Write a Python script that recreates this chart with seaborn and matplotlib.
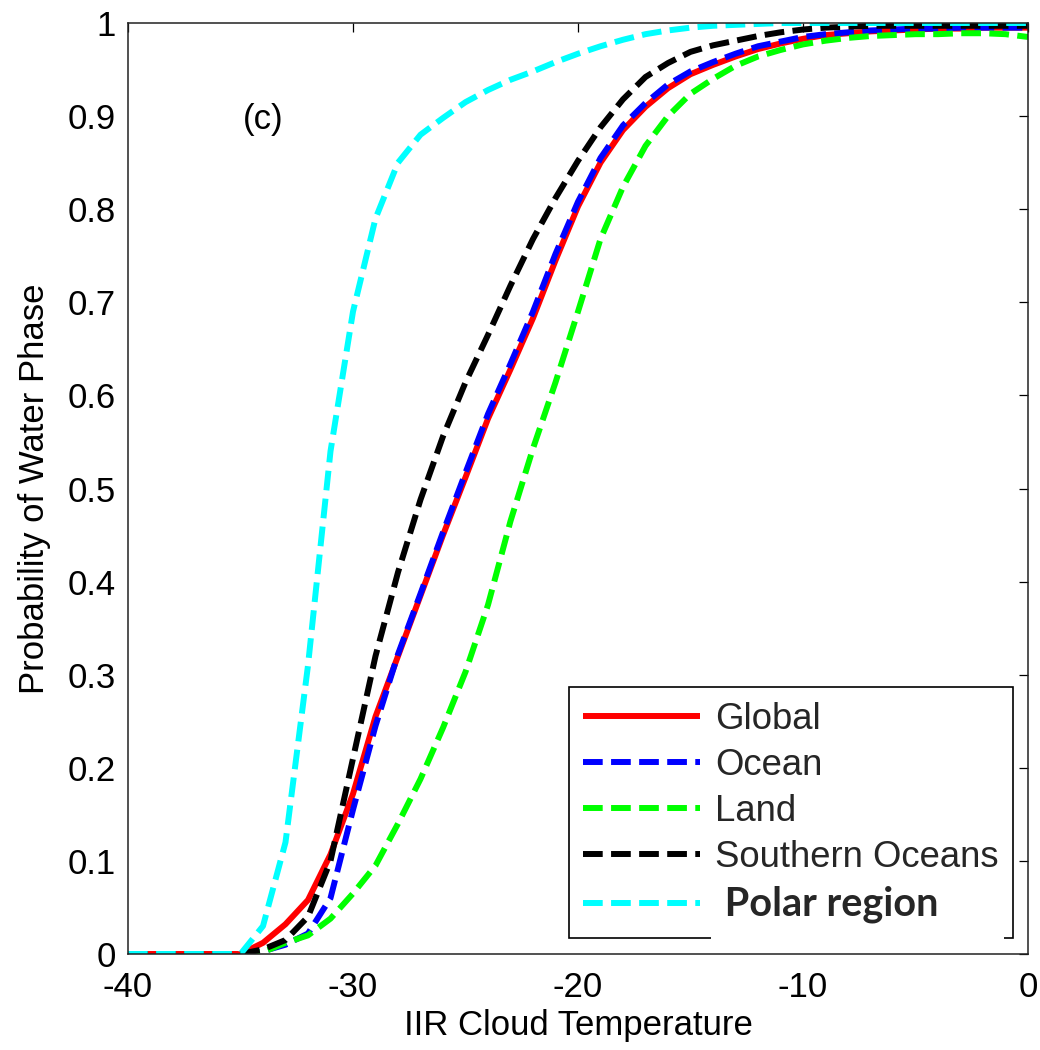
import numpy as np
import pandas as pd
import matplotlib
matplotlib.use("Agg")
import matplotlib.pyplot as plt
from matplotlib.path import Path
import seaborn as sns

# ---------------- data ----------------
temperature = list(range(-40, 1))

global_p = [0, 0, 0, 0, 0, 0, 0.012, 0.032, 0.058, 0.107, 0.172, 0.255, 0.32, 0.385,
            0.45, 0.512, 0.575, 0.628, 0.683, 0.745, 0.803, 0.85, 0.885, 0.91, 0.93,
            0.945, 0.955, 0.964, 0.972, 0.978, 0.983, 0.987, 0.989, 0.991, 0.992,
            0.993, 0.994, 0.994, 0.995, 0.995, 0.995]
ocean_p = [0, 0, 0, 0, 0, 0, 0.003, 0.01, 0.022, 0.06, 0.155, 0.245, 0.322, 0.387,
           0.453, 0.517, 0.58, 0.634, 0.69, 0.752, 0.808, 0.855, 0.89, 0.914, 0.934,
           0.948, 0.958, 0.967, 0.975, 0.98, 0.985, 0.988, 0.99, 0.992, 0.993,
           0.994, 0.994, 0.995, 0.995, 0.995, 0.995]
land_p = [0, 0, 0, 0, 0, 0, 0.002, 0.012, 0.02, 0.038, 0.065, 0.095, 0.14, 0.188,
          0.243, 0.303, 0.375, 0.465, 0.543, 0.614, 0.69, 0.768, 0.824, 0.868, 0.9,
          0.924, 0.94, 0.954, 0.964, 0.971, 0.977, 0.981, 0.984, 0.986, 0.987,
          0.988, 0.988, 0.989, 0.989, 0.988, 0.985]
southern_p = [0, 0, 0, 0, 0, 0, 0.005, 0.015, 0.04, 0.1, 0.21, 0.32, 0.41, 0.488,
              0.556, 0.614, 0.665, 0.718, 0.768, 0.812, 0.852, 0.888, 0.918, 0.942, 0.957,
              0.969, 0.976, 0.981, 0.986, 0.99, 0.993, 0.995, 0.996, 0.997, 0.997,
              0.997, 0.997, 0.997, 0.997, 0.997, 0.997]
polar_p = [0, 0, 0, 0, 0, 0, 0.03, 0.12, 0.31, 0.54, 0.69, 0.79, 0.85, 0.88,
           0.898, 0.915, 0.928, 0.939, 0.948, 0.958, 0.967, 0.975, 0.982, 0.988, 0.992,
           0.995, 0.997, 0.998, 0.999, 1.0, 1.0, 1.0, 1.0, 1.0, 1.0,
           1.0, 1.0, 1.0, 1.0, 1.0, 1.0]

region_names = ["Global", "Ocean", "Land", "Southern Oceans", "Polar region"]
region_values = [global_p, ocean_p, land_p, southern_p, polar_p]
region_colors = ["#ff0000", "#0000ff", "#00ff00", "#000000", "#00ffff"]

x_ticks = [-40, -30, -20, -10, 0]
x_tick_labels = ["-40", "-30", "-20", "-10", "0"]
y_ticks = [0, 0.1, 0.2, 0.3, 0.4, 0.5, 0.6, 0.7, 0.8, 0.9, 1.0]
y_tick_labels = ["0", "0.1", "0.2", "0.3", "0.4", "0.5", "0.6", "0.7", "0.8", "0.9", "1"]

df = pd.concat([pd.DataFrame({"T": temperature, "P": vals, "Region": name})
                for name, vals in zip(region_names, region_values)], ignore_index=True)

# ---------------- style ----------------
sns.set_theme(style="white")
plt.rcParams["font.family"] = ["Liberation Sans", "DejaVu Sans"]
plt.rcParams["axes.unicode_minus"] = False

fig = plt.figure(figsize=(10.4, 10.5), dpi=100)
ax = fig.add_axes([128 / 1040, 1 - 954 / 1050, 900 / 1040, 931 / 1050])

LW = 4.3
dash = (3.3, 1.4)
for name, color in zip(region_names, region_colors):
    sub = df[df["Region"] == name]
    sns.lineplot(data=sub, x="T", y="P", color=color, linewidth=LW, ax=ax,
                 label=name, legend=False)
    line = ax.lines[-1]
    if name != "Global":
        line.set_dashes(dash)
    line.set_solid_capstyle("butt")
    line.set_dash_capstyle("butt")

ax.set_xlim(-40, 0)
ax.set_ylim(0, 1)
ax.set_xticks(x_ticks)
ax.set_xticklabels(x_tick_labels)
ax.set_yticks(y_ticks)
ax.set_yticklabels(y_tick_labels)

FS = 25
ax.tick_params(axis="both", which="both", direction="in", length=6.5, width=0.9,
               top=True, right=True, labelsize=FS, colors="black", pad=9)
ax.tick_params(axis="x", pad=12)
for sp in ax.spines.values():
    sp.set_visible(True)
    sp.set_color("#222222")
    sp.set_linewidth(1.1)

ax.set_xlabel("IIR Cloud Temperature", fontsize=FS, labelpad=4, color="black")
ax.set_ylabel("Probability of Water Phase", fontsize=FS, labelpad=12, color="black")

ax.text(-34.0, 0.896, "(c)", fontsize=FS, ha="center", va="center", color="black")

handles = ax.lines[:5]
labels = ["Global", "Ocean", "Land", "Southern Oceans", " Polar region"]
LFS = 26.3
leg = ax.legend(handles, labels, loc="lower right",
                bbox_to_anchor=(885 / 900, 16 / 931), borderaxespad=0,
                fontsize=LFS, handlelength=3.2, handletextpad=0.4,
                labelspacing=0.3, borderpad=0.4, fancybox=False, framealpha=1,
                edgecolor="black")
leg.get_frame().set_linewidth(1.2)


def cover_box(x0, y0, width, height, mutation_size):
    # white patch behind the pasted "Polar region" label (pixel units)
    left, right = x0 - 4, x0 + width + 66
    bottom, top = y0 - 18, y0 + height
    return Path([(left, bottom), (right, bottom), (right, top), (left, top),
                 (left, bottom)], closed=True)


pt = leg.get_texts()[4]
pt.set_fontfamily(["Lato", "DejaVu Sans"])
pt.set_fontweight("bold")
pt.set_fontsize(28.5)
pt.set_bbox(dict(boxstyle=cover_box, facecolor="white", edgecolor="none"))

fig.savefig("out.png", dpi=100, facecolor="white")
